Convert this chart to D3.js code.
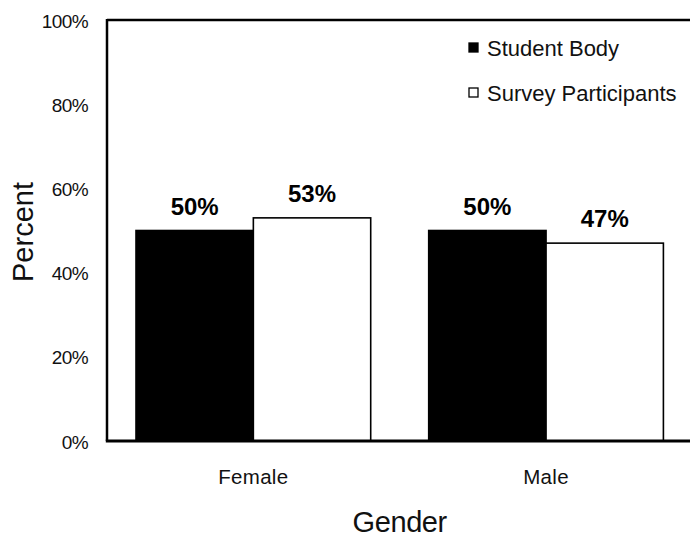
<!DOCTYPE html>
<html lang="en">
<head>
  <meta charset="UTF-8">
  <script src="https://cdn.jsdelivr.net/npm/d3@7/dist/d3.min.js"></script>
  <title>Gender</title>
  <style>
    body { margin: 0; background: #ffffff; }
    svg { display: block; font-family: "Liberation Sans", Arial, sans-serif; }
    .tick-lbl { font-size: 19px; letter-spacing: -0.6px; fill: #111; }
    .cat-lbl { font-size: 20.5px; letter-spacing: 0.3px; fill: #111; }
    .val-lbl { font-size: 24px; font-weight: bold; fill: #000; }
    .ax-title { font-size: 29px; fill: #111; }
    .leg-lbl { font-size: 22px; fill: #111; }
  </style>
</head>
<body>

<div id="chart"></div>

<script>
  // data
  var categories = ["Female", "Male"];
  var seriesNames = ["Student Body", "Survey Participants"];
  var studentBody = [50, 50];
  var surveyParticipants = [53, 47];
  var yTicks = [0, 20, 40, 60, 80, 100];

  var seriesValues = [studentBody, surveyParticipants];
  var seriesFill = ["#000000", "#ffffff"];

  var width = 690, height = 540;
  var plot = {left: 107, right: 692.4, top: 20, bottom: 441};

  var svg = d3.select("#chart")
    .append("svg")
    .attr("width", width)
    .attr("height", height);

  var x0 = d3.scaleBand()
    .domain(categories)
    .range([plot.left, plot.right]);

  var x1 = d3.scaleBand()
    .domain(seriesNames)
    .range([29, x0.bandwidth() - 29]);

  var y = d3.scaleLinear()
    .domain([0, 100])
    .range([plot.bottom, plot.top]);

  // bars
  var rows = [];
  categories.forEach(function(c, i) {
    seriesNames.forEach(function(s, j) {
      rows.push({cat: c, series: s, idx: j, value: seriesValues[j][i]});
    });
  });

  svg.selectAll(".bar")
    .data(rows)
    .enter()
    .append("rect")
    .attr("class", "bar")
    .attr("x", function(d) { return x0(d.cat) + x1(d.series); })
    .attr("y", function(d) { return y(d.value); })
    .attr("width", x1.bandwidth())
    .attr("height", function(d) { return y(0) - y(d.value); })
    .attr("fill", function(d) { return seriesFill[d.idx]; })
    .attr("stroke", "#000")
    .attr("stroke-width", 1.6);

  // value labels
  svg.selectAll(".val-lbl")
    .data(rows)
    .enter()
    .append("text")
    .attr("class", "val-lbl")
    .attr("x", function(d) { return x0(d.cat) + x1(d.series) + x1.bandwidth() / 2; })
    .attr("y", function(d) { return y(d.value) - 16; })
    .attr("text-anchor", "middle")
    .text(function(d) { return d.value + "%"; });

  // frame: left axis, top line, bottom axis
  svg.append("line")
    .attr("x1", plot.left).attr("x2", plot.left)
    .attr("y1", plot.top - 1).attr("y2", plot.bottom)
    .attr("stroke", "#000").attr("stroke-width", 2.5);

  svg.append("line")
    .attr("x1", plot.left).attr("x2", width)
    .attr("y1", plot.top).attr("y2", plot.top)
    .attr("stroke", "#000").attr("stroke-width", 2.3);

  svg.append("line")
    .attr("x1", plot.left - 1.2).attr("x2", width)
    .attr("y1", plot.bottom).attr("y2", plot.bottom)
    .attr("stroke", "#000").attr("stroke-width", 3);

  // y tick labels
  svg.selectAll(".tick-lbl")
    .data(yTicks)
    .enter()
    .append("text")
    .attr("class", "tick-lbl")
    .attr("x", 88)
    .attr("y", function(d) { return y(d) + 7.5; })
    .attr("text-anchor", "end")
    .text(function(d) { return d + "%"; });

  // category labels
  svg.selectAll(".cat-lbl")
    .data(categories)
    .enter()
    .append("text")
    .attr("class", "cat-lbl")
    .attr("x", function(d) { return x0(d) + x0.bandwidth() / 2; })
    .attr("y", 484)
    .attr("text-anchor", "middle")
    .text(function(d) { return d; });

  // axis titles
  svg.append("text")
    .attr("class", "ax-title")
    .attr("x", (plot.left + plot.right) / 2)
    .attr("y", 532)
    .attr("text-anchor", "middle")
    .style("letter-spacing", "-0.4px")
    .text("Gender");

  svg.append("text")
    .attr("class", "ax-title")
    .attr("transform", "translate(33,232)rotate(-90)")
    .attr("text-anchor", "middle")
    .text("Percent");

  // legend
  var leg = svg.selectAll(".leg")
    .data(seriesNames)
    .enter()
    .append("g")
    .attr("class", "leg")
    .attr("transform", function(d, i) { return "translate(469," + (43 + i * 45) + ")"; });

  leg.append("rect")
    .attr("width", 9)
    .attr("height", 9)
    .attr("fill", function(d, i) { return seriesFill[i]; })
    .attr("stroke", "#000")
    .attr("stroke-width", 1.3);

  leg.append("text")
    .attr("class", "leg-lbl")
    .attr("x", 18)
    .attr("y", 13)
    .text(function(d) { return d; });
</script>

</body>
</html>
